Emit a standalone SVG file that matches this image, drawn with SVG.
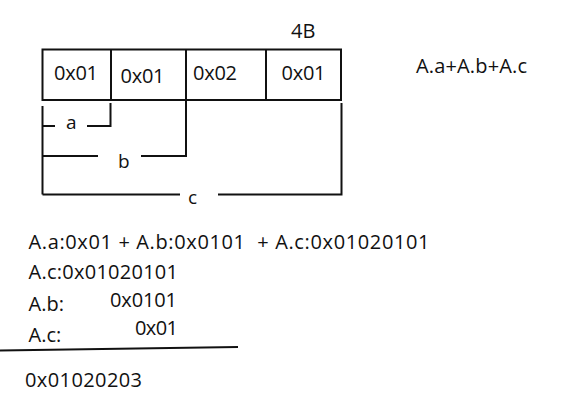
<svg xmlns="http://www.w3.org/2000/svg" width="567" height="403" viewBox="0 0 567 403">
<style>
text{font-family:"Open Sans","Noto Sans",sans-serif;fill:#111;}
.cell{font-size:20px;}
.lbl{font-size:19px;}
.eq{font-size:20px;}
.ln{stroke:#111;stroke-width:2;fill:none;}
.box{stroke:#111;stroke-width:2;fill:#fff;}
</style>
<rect width="567" height="403" fill="#fff"/>
<g id="memory">
  <rect class="box" x="42.5" y="49.5" width="298.5" height="50.5"/>
  <line class="ln" x1="111" y1="49.5" x2="111" y2="100"/>
  <line class="ln" x1="186" y1="49.5" x2="186" y2="100"/>
  <line class="ln" x1="266" y1="49.5" x2="266" y2="100"/>
  <text class="cell" x="54" y="80" textLength="44">0x01</text>
  <text class="cell" x="120.5" y="82.5" textLength="44">0x01</text>
  <text class="cell" x="193" y="80" textLength="44">0x02</text>
  <text class="cell" x="281.5" y="80" textLength="44">0x01</text>
  <text class="cell" x="291" y="38">4B</text>
</g>
<g id="connectors">
  <path class="ln" d="M42.5,106 V194.5"/>
  <path class="ln" d="M42.5,126 H55 M87,126 H110.5 V103"/>
  <path class="ln" d="M42.5,156 H98 M141,156 H186 V100"/>
  <path class="ln" d="M42.5,194.5 H180 M218,194.5 H341.5 V103"/>
  <path class="ln" d="M0,350.5 L238,347"/>
</g>
<g id="labels">
  <text class="lbl" x="66" y="129">a</text>
  <text class="lbl" x="118" y="167.5">b</text>
  <text class="lbl" x="188" y="203.5">c</text>
</g>
<g id="equations">
  <text class="eq" x="416" y="73" textLength="111">A.a+A.b+A.c</text>
  <text class="eq" x="28.5" y="248.5" xml:space="preserve" textLength="401">A.a:0x01 + A.b:0x0101  + A.c:0x01020101</text>
  <text class="eq" x="28.5" y="279" textLength="149.5">A.c:0x01020101</text>
  <text class="eq" x="28.5" y="311">A.b:</text>
  <text class="eq" x="110" y="307" textLength="67">0x0101</text>
  <text class="eq" x="28.5" y="342">A.c:</text>
  <text class="eq" x="135" y="334.5" textLength="43">0x01</text>
  <text class="eq" x="25" y="386.5" textLength="117">0x01020203</text>
</g>
</svg>
